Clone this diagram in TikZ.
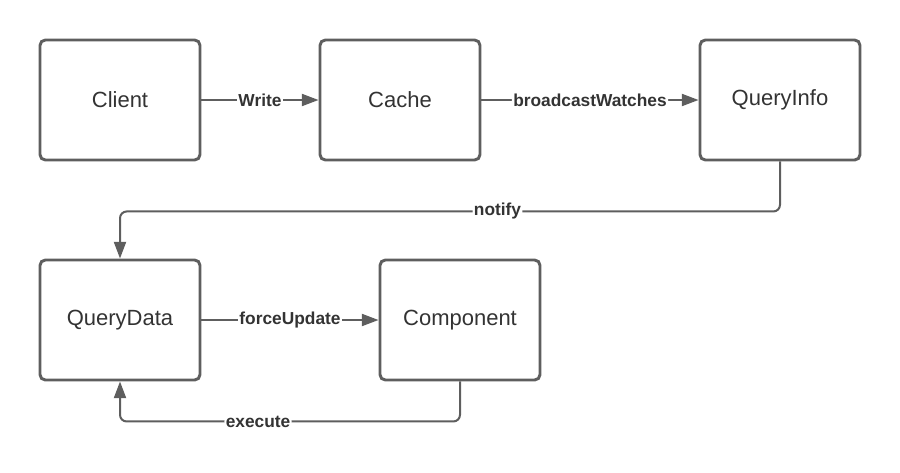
\documentclass[tikz,border=0pt]{standalone}
\usepackage{fontspec}
\setmainfont{Liberation Sans}
\usetikzlibrary{arrows.meta}
\definecolor{linegray}{HTML}{5E5E5E}
\definecolor{textgray}{HTML}{333333}

\begin{document}
\begin{tikzpicture}[x=0.75pt,y=-0.75pt,
  box/.style={draw=linegray, line width=2.2pt, rounded corners=4pt,
    minimum width=120pt, minimum height=90pt, text=textgray,
    font=\fontsize{16.5}{20}\selectfont},
  link/.style={draw=linegray, line width=1.5pt, rounded corners=5pt,
    -{Triangle[length=12.5pt,width=9pt]}},
  lbl/.style={fill=white, text=textgray, inner sep=1pt,
    font=\bfseries\fontsize{13}{15}\selectfont}]
  \useasboundingbox (0,0) rectangle (900,472);
  \node[box] (client) at (120,100) {Client};
  \node[box] (cache) at (400,100) {Cache};
  \node[box] (queryinfo) at (780,100) {QueryInfo};
  \node[box] (querydata) at (120,320) {QueryData};
  \node[box] (component) at (460,320) {Component};
  \draw[link] (client) -- node[lbl] {Write} (cache);
  \draw[link] (cache) -- node[lbl] {broadcastWatches} (queryinfo);
  \draw[link] (queryinfo.south) -- ++(0,50) -| node[lbl,pos=0.214] {notify} (querydata.north);
  \draw[link] (querydata) -- node[lbl] {forceUpdate} (component);
  \draw[link] (component.south) -- ++(0,40) -| node[lbl,pos=0.297] {execute} (querydata.south);
\end{tikzpicture}
\end{document}
